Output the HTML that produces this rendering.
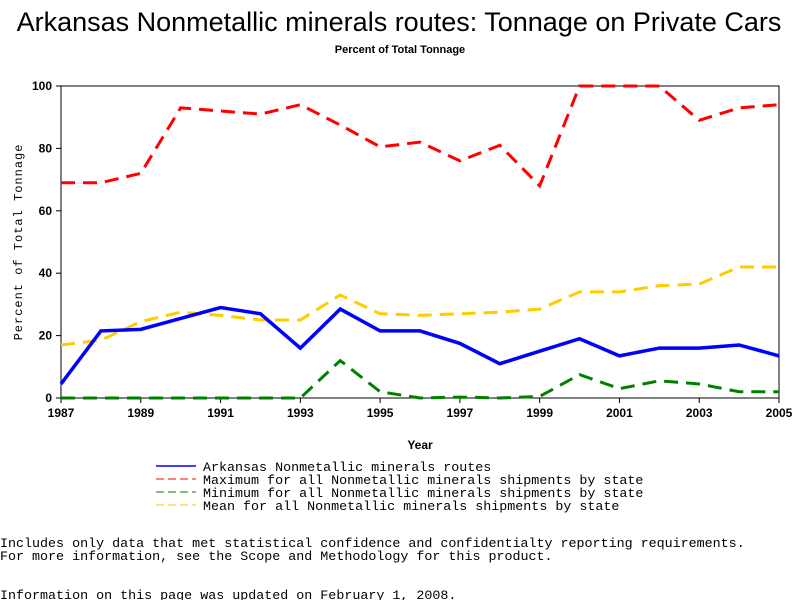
<!DOCTYPE html>
<html><head><meta charset="utf-8"><style>
body{margin:0;background:#fff;width:800px;height:600px;overflow:hidden}
svg text{font-family:"Liberation Sans",sans-serif}
.m{font-family:"Liberation Mono",monospace !important;font-size:13.35px}
</style></head><body>
<svg width="800" height="600">
<text x="399" y="31" text-anchor="middle" font-size="27">Arkansas Nonmetallic minerals routes: Tonnage on Private Cars</text>
<text x="400" y="53" text-anchor="middle" font-size="11" font-weight="bold">Percent of Total Tonnage</text>
<rect x="61" y="86" width="718" height="312" fill="none" stroke="#000"/>
<g id="axes"></g>
<g id="series"></g>
<text transform="translate(22,242) rotate(-90)" text-anchor="middle" class="m" style="font-size:12px" letter-spacing="1">Percent of Total Tonnage</text>
<text x="420" y="449" text-anchor="middle" font-size="12" font-weight="bold">Year</text>
<g>
<line x1="156" y1="466" x2="196" y2="466" stroke="#00f" stroke-width="1.5"/>
<text x="203" y="471" class="m">Arkansas Nonmetallic minerals routes</text>
<line x1="156" y1="479" x2="196" y2="479" stroke="red" stroke-dasharray="8,4"/>
<text x="203" y="484" class="m">Maximum for all Nonmetallic minerals shipments by state</text>
<line x1="156" y1="492" x2="196" y2="492" stroke="green" stroke-dasharray="8,4"/>
<text x="203" y="497" class="m">Minimum for all Nonmetallic minerals shipments by state</text>
<line x1="156" y1="505" x2="196" y2="505" stroke="#fc0" stroke-dasharray="8,4"/>
<text x="203" y="510" class="m">Mean for all Nonmetallic minerals shipments by state</text>
</g>
<text x="0" y="547" class="m">Includes only data that met statistical confidence and confidentialty reporting requirements.</text>
<text x="0" y="560" class="m">For more information, see the Scope and Methodology for this product.</text>
<text x="0" y="599" class="m">Information on this page was updated on February 1, 2008.</text>
</svg>
<script>
const years=[1987,1988,1989,1990,1991,1992,1993,1994,1995,1996,1997,1998,1999,2000,2001,2002,2003,2004,2005];
const arkansas=[4.5,21.5,22,25.5,29,27,16,28.5,21.5,21.5,17.5,11,15,19,13.5,16,16,17,13.5];
const maximum=[69,69,72,93,92,91,94,87.5,80.5,82,76,81,68,100,100,100,89,93,94];
const minimum=[0,0,0,0,0,0,0,12,2,0,0.3,0,0.5,7.5,3,5.5,4.5,2,2];
const mean=[17,18.5,24.5,27.5,26.5,25,25,33,27,26.5,27,27.5,28.5,34,34,36,36.5,42,42];
const yTicks=[0,20,40,60,80,100];
const xTickLabels=[1987,1989,1991,1993,1995,1997,1999,2001,2003,2005];
const NS="http://www.w3.org/2000/svg";
const X=y=>61+(y-1987)*(718/18);
const Y=v=>398-v*3.12;
function mk(t,a,p){const e=document.createElementNS(NS,t);for(const k in a)e.setAttribute(k,a[k]);p.appendChild(e);return e;}
const ax=document.getElementById('axes');
yTicks.forEach(v=>{mk('line',{x1:56,x2:61,y1:Y(v),y2:Y(v),stroke:'#000'},ax);
const t=mk('text',{x:52,y:Y(v)+4,'text-anchor':'end','font-size':12,'font-weight':'bold'},ax);t.textContent=v;

});
xTickLabels.forEach(v=>{mk('line',{x1:X(v),x2:X(v),y1:398,y2:403,stroke:'#000'},ax);
const t=mk('text',{x:X(v),y:417,'text-anchor':'middle','font-size':12,'font-weight':'bold'},ax);t.textContent=v;

});
const sg=document.getElementById('series');
function line(d,c,w,dash,name){const p=mk('polyline',{points:d.map((v,i)=>X(years[i])+','+Y(v)).join(' '),fill:'none',stroke:c,'stroke-width':w,'stroke-dasharray':dash},sg);

}
line(minimum,'green',3,'14,8','minimum-line');
line(mean,'#fc0',3,'14,8','mean-line');
line(maximum,'red',3,'14,8','maximum-line');
line(arkansas,'#00f',3.5,'none','arkansas-line');
</script>
</body></html>
